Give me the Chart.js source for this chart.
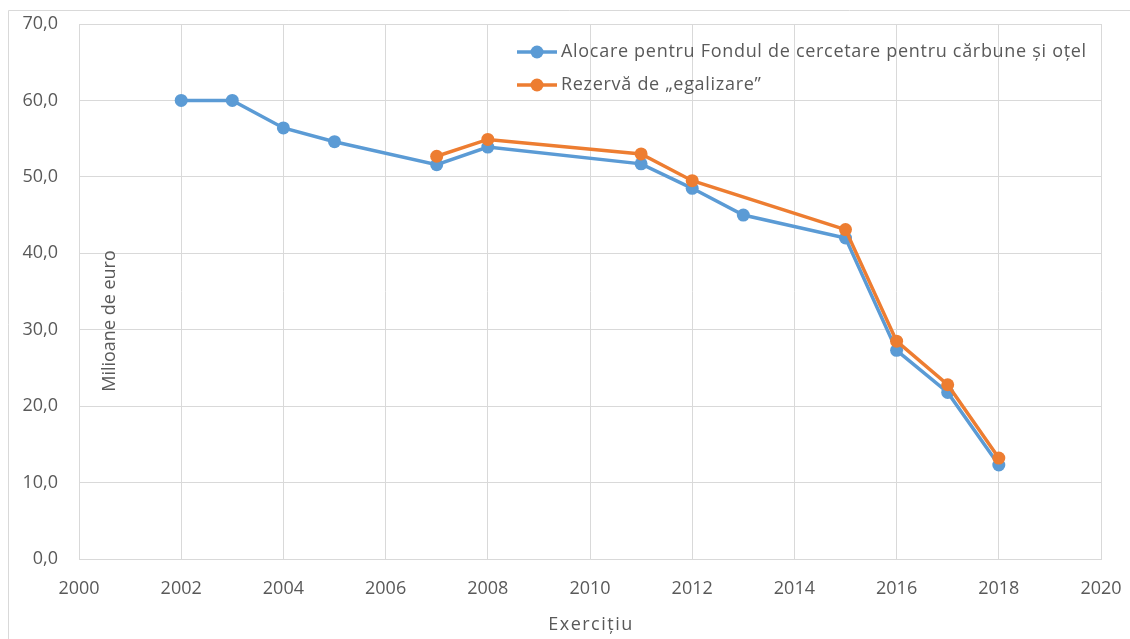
<!DOCTYPE html>
<html><head><meta charset="utf-8">
<script src="https://cdn.jsdelivr.net/npm/chart.js@4/dist/chart.umd.min.js"></script>
<style>html,body{margin:0;padding:0;background:#fff}#wrap{width:1130px;height:639px}</style>
</head><body><div id="wrap"><canvas id="c" width="1130" height="639"></canvas></div>
<script>
const yearsAlloc = [2002, 2003, 2004, 2005, 2007, 2008, 2011, 2012, 2013, 2015, 2016, 2017, 2018];
const valuesAlloc = [60.0, 60.0, 56.4, 54.6, 51.6, 53.9, 51.7, 48.5, 45.0, 42.0, 27.3, 21.8, 12.3];
const yearsReserve = [2007, 2008, 2011, 2012, 2015, 2016, 2017, 2018];
const valuesReserve = [52.7, 54.9, 53.0, 49.5, 43.1, 28.5, 22.8, 13.2];
const seriesNames = ['Alocare pentru Fondul de cercetare pentru cărbune și oțel', 'Rezervă de „egalizare”'];
const xTitle = 'Exercițiu';
const yTitle = 'Milioane de euro';

const FONT = '"Open Sans", "Noto Sans", sans-serif';
const GRAY = '#595959';
const GRID = '#D9D9D9';

const toPts = (xs, ys) => xs.map((x, i) => ({x: x, y: ys[i]}));

const frame = {
  id: 'frame',
  beforeDraw(chart) {
    const c = chart.ctx;
    c.save();
    c.strokeStyle = GRID; c.lineWidth = 1;
    c.beginPath(); c.moveTo(8.5, 639); c.lineTo(8.5, 10.5); c.lineTo(1130, 10.5); c.stroke();
    c.restore();
  },
  afterDatasetsDraw(chart) {
    const c = chart.ctx, a = chart.chartArea;
    // y title inside plot
    c.save();
    c.fillStyle = GRAY;
    c.font = '18px ' + FONT;
    c.translate(a.left + 31, 321);
    c.rotate(-Math.PI / 2);
    c.textAlign = 'center'; c.textBaseline = 'middle';
    c.fillText(yTitle, 0, 0);
    c.restore();
    // x title
    c.save();
    c.fillStyle = GRAY;
    c.font = '18px ' + FONT;
    c.letterSpacing = '1.5px';
    c.textAlign = 'center'; c.textBaseline = 'middle';
    c.fillText(xTitle, (a.left + a.right) / 2 + 1, 625);
    c.restore();
    // legend
    c.save();
    const rows = [52, 85];
    chart.data.datasets.forEach((ds, i) => {
      const y = rows[i];
      c.strokeStyle = ds.borderColor; c.lineWidth = ds.borderWidth;
      c.beginPath(); c.moveTo(517, y); c.lineTo(557, y); c.stroke();
      c.fillStyle = ds.borderColor;
      c.beginPath(); c.arc(537, y, ds.pointRadius, 0, Math.PI * 2); c.fill();
      c.fillStyle = GRAY; c.font = '18px ' + FONT;
      c.letterSpacing = '0.7px';
      c.textAlign = 'left'; c.textBaseline = 'middle';
      c.fillText(ds.label, 561, y);
    });
    c.restore();
  }
};

new Chart(document.getElementById('c'), {
  type: 'line',
  data: {
    datasets: [
      {label: seriesNames[0], data: toPts(yearsAlloc, valuesAlloc), borderColor: '#5B9BD5', backgroundColor: '#5B9BD5',
       borderWidth: 3.5, pointRadius: 6.5, pointHoverRadius: 6.5, pointBorderWidth: 0, order: 1},
      {label: seriesNames[1], data: toPts(yearsReserve, valuesReserve), borderColor: '#ED7D31', backgroundColor: '#ED7D31',
       borderWidth: 3.5, pointRadius: 6.5, pointHoverRadius: 6.5, pointBorderWidth: 0, order: 0}
    ]
  },
  options: {
    responsive: false, animation: false, devicePixelRatio: 1,
    layout: {padding: {left: 0, top: 24, right: 29, bottom: 0}},
    plugins: {legend: {display: false}, tooltip: {enabled: false}},
    scales: {
      x: {
        type: 'linear', min: 2000, max: 2020, offset: false,
        ticks: {stepSize: 2, color: GRAY, font: {family: FONT, size: 18}, padding: 19, maxRotation: 0,
                callback: v => String(v)},
        grid: {color: GRID, lineWidth: 1, drawTicks: false},
        border: {color: GRID, width: 1},
        afterFit: s => { s.height = 80; s.paddingLeft = 0; s.paddingRight = 0; s.paddingTop = 0; s.paddingBottom = 0; }
      },
      y: {
        min: 0, max: 70,
        ticks: {stepSize: 10, color: GRAY, font: {family: FONT, size: 18}, padding: 21,
                callback: v => v.toFixed(1).replace('.', ',')},
        grid: {color: GRID, lineWidth: 1, drawTicks: false},
        border: {color: GRID, width: 1},
        afterFit: s => { s.width = 79; s.paddingLeft = 0; s.paddingRight = 0; s.paddingTop = 0; s.paddingBottom = 0; }
      }
    }
  },
  plugins: [frame]
});
</script></body></html>
